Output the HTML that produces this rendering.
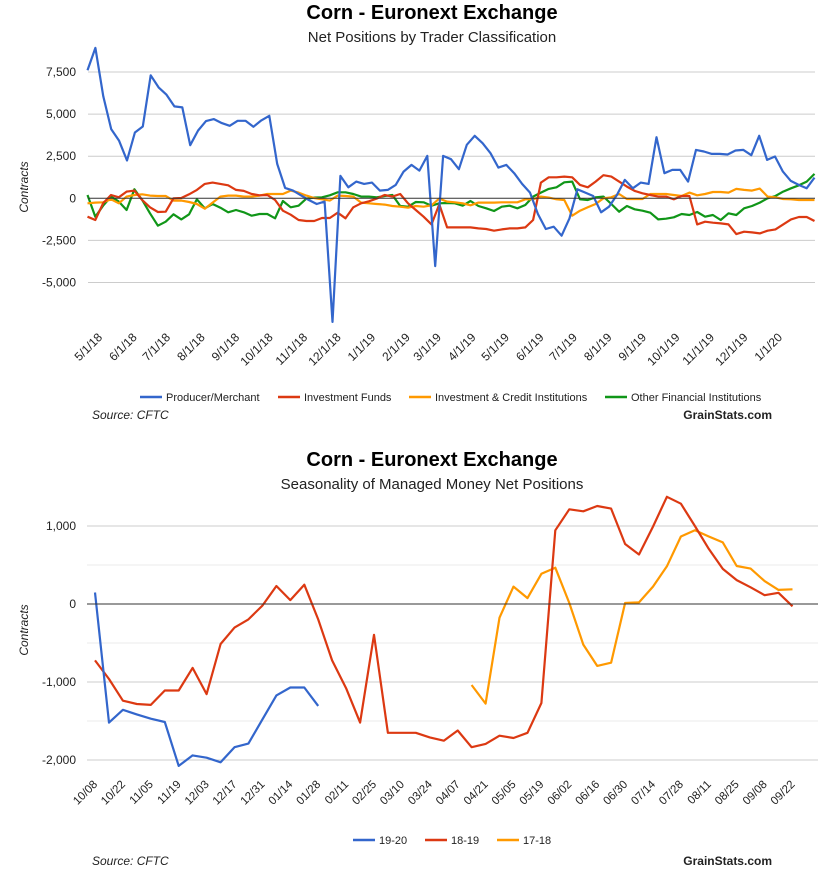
<!DOCTYPE html>
<html><head><meta charset="utf-8"><style>
html,body{margin:0;padding:0;background:#fff;}
svg{display:block;font-family:"Liberation Sans",sans-serif;}
</style></head><body>
<svg id="s" width="831" height="883" viewBox="0 0 831 883">
<text x="432" y="19" text-anchor="middle" font-size="20" font-weight="bold" fill="#000">Corn - Euronext Exchange</text>
<text x="432" y="42" text-anchor="middle" font-size="15" fill="#222">Net Positions by Trader Classification</text>
<text transform="translate(28,187) rotate(-90)" text-anchor="middle" font-size="12" font-style="italic" fill="#222">Contracts</text>
<g id="topPlot"></g>
<g>
<line x1="140" y1="397" x2="162" y2="397" stroke="#3366cc" stroke-width="2.5"/><text x="166" y="401" font-size="11" fill="#222">Producer/Merchant</text>
<line x1="278" y1="397" x2="300" y2="397" stroke="#dc3912" stroke-width="2.5"/><text x="304" y="401" font-size="11" fill="#222">Investment Funds</text>
<line x1="409" y1="397" x2="431" y2="397" stroke="#ff9900" stroke-width="2.5"/><text x="435" y="401" font-size="11" fill="#222">Investment &amp; Credit Institutions</text>
<line x1="605" y1="397" x2="627" y2="397" stroke="#109618" stroke-width="2.5"/><text x="631" y="401" font-size="11" fill="#222">Other Financial Institutions</text>
</g>
<text x="92" y="419" font-size="12" font-style="italic" fill="#222">Source: CFTC</text>
<text x="772" y="419" text-anchor="end" font-size="12" font-weight="bold" fill="#222">GrainStats.com</text>

<text x="432" y="466" text-anchor="middle" font-size="20" font-weight="bold" fill="#000">Corn - Euronext Exchange</text>
<text x="432" y="489" text-anchor="middle" font-size="15" fill="#222">Seasonality of Managed Money Net Positions</text>
<text transform="translate(28,630) rotate(-90)" text-anchor="middle" font-size="12" font-style="italic" fill="#222">Contracts</text>
<g id="botPlot"></g>
<g>
<line x1="353" y1="840" x2="375" y2="840" stroke="#3366cc" stroke-width="2.5"/><text x="379" y="844" font-size="11" fill="#222">19-20</text>
<line x1="425" y1="840" x2="447" y2="840" stroke="#dc3912" stroke-width="2.5"/><text x="451" y="844" font-size="11" fill="#222">18-19</text>
<line x1="497" y1="840" x2="519" y2="840" stroke="#ff9900" stroke-width="2.5"/><text x="523" y="844" font-size="11" fill="#222">17-18</text>
</g>
<text x="92" y="865" font-size="12" font-style="italic" fill="#222">Source: CFTC</text>
<text x="772" y="865" text-anchor="end" font-size="12" font-weight="bold" fill="#222">GrainStats.com</text>
</svg>
<script>
// ---- top chart data ----
const topTicks = [7500, 5000, 2500, 0, -2500, -5000];
const topTickLabels = ["7,500", "5,000", "2,500", "0", "-2,500", "-5,000"];
const topDateLabels = ["5/1/18","6/1/18","7/1/18","8/1/18","9/1/18","10/1/18","11/1/18","12/1/18","1/1/19","2/1/19","3/1/19","4/1/19","5/1/19","6/1/19","7/1/19","8/1/19","9/1/19","10/1/19","11/1/19","12/1/19","1/1/20"];
const topLabelDays = [0,31,61,92,123,153,184,214,245,276,304,335,365,396,426,457,488,518,549,579,610];
const producer = [7599,8929,6052,4107,3413,2242,3909,4266,7302,6587,6151,5456,5397,3155,4028,4583,4702,4464,4306,4603,4603,4246,4623,4901,2044,615,456,179,-99,-337,-198,-7341,1329,655,992,853,932,456,496,794,1587,1984,1647,2520,-4028,2520,2321,1726,3175,3710,3274,2679,1825,1984,1488,853,337,-933,-1825,-1687,-2222,-1190,536,337,139,-833,-496,198,1091,595,932,853,3631,1488,1687,1687,992,2877,2778,2639,2639,2599,2837,2877,2560,3710,2282,2480,1587,1032,794,595,1230];
const invFunds = [-1091,-1290,-298,198,60,397,456,-99,-536,-813,-794,0,20,238,496,853,932,853,774,496,437,258,179,198,-99,-734,-972,-1290,-1349,-1349,-1171,-1171,-853,-1190,-536,-298,-179,-20,198,99,258,-298,-694,-1091,-1548,-357,-1726,-1726,-1726,-1726,-1786,-1825,-1924,-1845,-1786,-1786,-1726,-1290,932,1250,1250,1290,1250,794,655,992,1369,1290,992,694,437,298,198,99,99,-60,139,139,-1548,-1389,-1448,-1488,-1548,-2123,-1984,-2024,-2083,-1924,-1845,-1548,-1250,-1111,-1111,-1349];
const invCredit = [-298,-258,-238,-60,-298,99,198,238,159,139,139,-139,-139,-218,-337,-615,-258,99,159,159,99,99,159,258,258,258,456,337,159,20,-60,-139,159,139,99,-258,-298,-337,-377,-456,-496,-556,-456,-496,-417,-20,-198,-238,-298,-417,-258,-258,-258,-238,-238,-238,-60,-60,99,40,-60,-99,-1032,-734,-536,-337,0,60,258,-40,-40,-40,258,258,258,198,139,337,179,258,377,377,337,556,496,456,575,99,60,-40,-60,-99,-99,-99];
const otherFin = [198,-1091,-437,99,-198,-694,536,-99,-893,-1627,-1389,-952,-1250,-952,-60,-595,-337,-556,-833,-694,-833,-1032,-933,-933,-1190,-159,-536,-437,-20,40,60,179,357,357,258,99,99,60,139,198,-456,-496,-218,-238,-437,-298,-278,-298,-437,-159,-456,-595,-754,-496,-437,-595,-397,99,337,556,655,952,992,-60,-99,60,99,-337,-794,-456,-655,-734,-853,-1250,-1210,-1131,-933,-992,-813,-1091,-992,-1290,-893,-992,-595,-456,-258,0,139,397,595,774,992,1448];

// ---- bottom chart data ----
const botTicks = [1000, 0, -1000, -2000];
const botTickLabels = ["1,000", "0", "-1,000", "-2,000"];
const botMinorTicks = [500, -500, -1500];
const botWeekLabels = ["10/08","10/22","11/05","11/19","12/03","12/17","12/31","01/14","01/28","02/11","02/25","03/10","03/24","04/07","04/21","05/05","05/19","06/02","06/16","06/30","07/14","07/28","08/11","08/25","09/08","09/22"];
const s1920 = [147,-1521,-1357,-1416,-1471,-1513,-2076,-1941,-1971,-2029,-1836,-1790,-1479,-1172,-1071,-1071,-1307];
const s1819 = [-723,-962,-1240,-1282,-1294,-1109,-1109,-819,-1155,-513,-303,-197,-21,231,50,248,-197,-723,-1080,-1521,-395,-1651,-1651,-1651,-1710,-1752,-1622,-1836,-1794,-1689,-1718,-1651,-1269,945,1214,1189,1256,1223,769,634,992,1374,1286,1000,706,450,307,214,113,143,-29];
const s1718Start = 27;
const s1718 = [-1038,-1277,-176,223,76,387,466,13,-521,-794,-752,13,21,223,483,866,945,866,790,487,454,294,181,189];

const NS = "http://www.w3.org/2000/svg";
function mk(tag, attrs, parent){const e=document.createElementNS(NS,tag);for(const k in attrs)e.setAttribute(k,attrs[k]);parent.appendChild(e);return e;}

// top axes
const tX0 = 87.5, tX1 = 814.5;
const txFor = n => (i => tX0 + i*(tX1 - tX0)/(n-1));
const ty = v => 198.3 - v*(42.1/2500);
const txDay = d => 103 + d*(680/610);
const topG = document.getElementById('topPlot');
topTicks.forEach((t,k)=>{
  if(t!==0){
    const g = mk('line',{x1:88,x2:815,y1:ty(t),y2:ty(t),stroke:'#cccccc','stroke-width':1},topG);
    
    
  }
  const l = mk('text',{x:76,y:ty(t)+4,'text-anchor':'end','font-size':12,fill:'#222'},topG);
  l.textContent = topTickLabels[k];
  
  
});
topDateLabels.forEach((lab,k)=>{
  const x = txDay(topLabelDays[k]), y = 338;
  const t = mk('text',{x:x,y:y,'text-anchor':'end','font-size':12,fill:'#222',transform:`rotate(-45 ${x} ${y})`},topG);
  t.textContent = lab;
  
  
});
function series(arr, x, y, start, color, parent, name){
  const pts = arr.map((v,i)=>x(i+start).toFixed(1)+','+y(v).toFixed(1)).join(' ');
  const p = mk('polyline',{points:pts,fill:'none',stroke:color,'stroke-width':2.2,'stroke-linejoin':'round'},parent);
  
  
}
series(otherFin, txFor(otherFin.length), ty, 0, '#109618', topG, 'other-financial-line');
series(invCredit, txFor(invCredit.length), ty, 0, '#ff9900', topG, 'investment-credit-line');
series(invFunds, txFor(invFunds.length), ty, 0, '#dc3912', topG, 'investment-funds-line');
series(producer, txFor(producer.length), ty, 0, '#3366cc', topG, 'producer-merchant-line');
const z1 = mk('line',{x1:88,x2:815,y1:ty(0),y2:ty(0),stroke:'#333','stroke-width':1},topG);



// bottom axes
const bx = i => 95 + i*13.95;
const by = v => 604 - v*0.078;
const botG = document.getElementById('botPlot');
botMinorTicks.forEach(t=>{
  const g = mk('line',{x1:87,x2:818,y1:by(t),y2:by(t),stroke:'#ebebeb','stroke-width':1},botG);
  
  
});
botTicks.forEach((t,k)=>{
  if(t!==0){
    const g = mk('line',{x1:87,x2:818,y1:by(t),y2:by(t),stroke:'#cccccc','stroke-width':1},botG);
    
    
  }
  const l = mk('text',{x:76,y:by(t)+4,'text-anchor':'end','font-size':12,fill:'#222'},botG);
  l.textContent = botTickLabels[k];
  
  
});
botWeekLabels.forEach((lab,k)=>{
  const x = bx(k*2)+3, y = 785;
  const t = mk('text',{x:x,y:y,'text-anchor':'end','font-size':11.5,fill:'#222',transform:`rotate(-45 ${x} ${y})`},botG);
  t.textContent = lab;
  
  
});
series(s1718, bx, by, s1718Start, '#ff9900', botG, 'season-17-18-line');
series(s1819, bx, by, 0, '#dc3912', botG, 'season-18-19-line');
series(s1920, bx, by, 0, '#3366cc', botG, 'season-19-20-line');
const z2 = mk('line',{x1:87,x2:818,y1:by(0),y2:by(0),stroke:'#333','stroke-width':1},botG);


</script>
</body></html>
